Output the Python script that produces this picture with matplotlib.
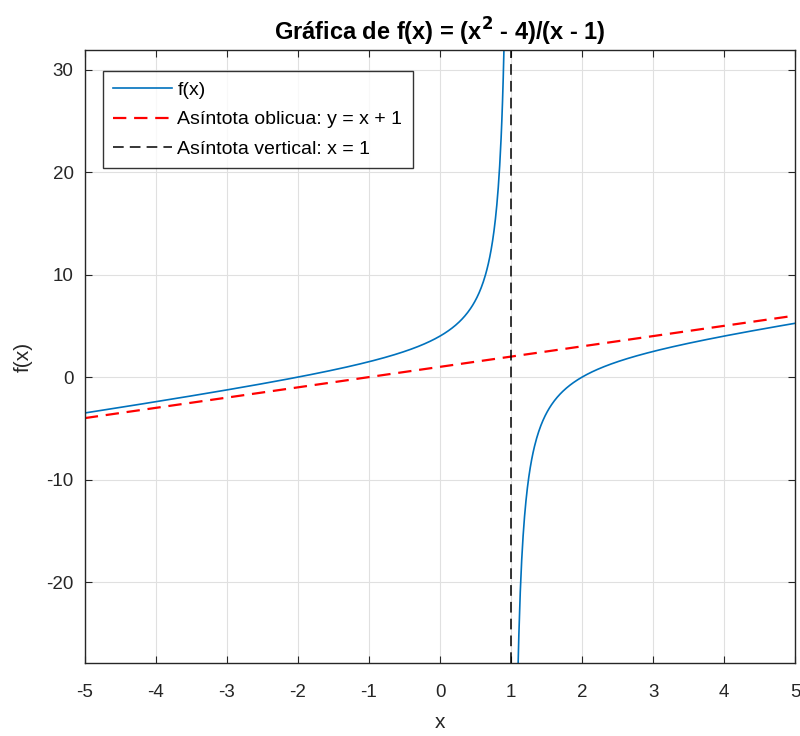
import numpy as np
import matplotlib.pyplot as plt

plt.rcParams['font.family'] = ['Liberation Sans', 'DejaVu Sans']
plt.rcParams['axes.unicode_minus'] = False

# dominio de la función, sin el intervalo alrededor de x = 1
x_izq = np.arange(-5.0, 0.9 + 1e-9, 0.01)
x_der = np.arange(1.1, 5.0 + 1e-9, 0.01)

def f(x):
    return (x**2 - 4) / (x - 1)

x_asint = [-5, 5]
x_vert = 1

y_izq = f(x_izq)
y_der = f(x_der)
y_obl = [xv + 1 for xv in x_asint]

azul = (0, 0.447, 0.741)
gris_ejes = (0.15, 0.15, 0.15)

fig = plt.figure(figsize=(8, 7.36), dpi=100)
ax = fig.add_axes([0.106, 0.099, 0.888, 0.833])

ax.plot(x_izq, y_izq, color=azul, lw=1.2, label='f(x)')
ax.plot(x_der, y_der, color=azul, lw=1.2)
ax.plot(x_asint, y_obl, color='red', lw=1.6, dashes=(6, 3.5),
        label='Asíntota oblicua: y = x + 1')
ax.axvline(x_vert, color='black', lw=1.1, dashes=(7, 4),
           label='Asíntota vertical: x = 1')

ax.set_xlim(-5, 5)
ax.set_ylim(min(y_der.min(), y_izq.min()), max(y_izq.max(), y_der.max()))
ax.set_xticks(range(-5, 6))
ax.set_yticks(range(-20, 31, 10))

ax.grid(True, color=(0.88, 0.88, 0.88), lw=0.8)
ax.set_axisbelow(True)
for s in ax.spines.values():
    s.set_color(gris_ejes)
    s.set_linewidth(1.0)
ax.tick_params(direction='in', length=5, top=True, right=True,
               colors=gris_ejes, labelsize=13.5, pad=8)
ax.tick_params(axis='x', pad=15)

ax.set_xlabel('x', fontsize=15, color=gris_ejes, labelpad=9)
ax.set_ylabel('f(x)', fontsize=15, color=gris_ejes, labelpad=10)
ax.set_title('Gráfica de f(x) = (x$^\\mathbf{2}$ - 4)/(x - 1)',
             fontsize=17, fontweight='bold', pad=7)

leg = ax.legend(loc='upper left', bbox_to_anchor=(0.025, 0.966),
                borderaxespad=0, fontsize=14, frameon=True, fancybox=False,
                edgecolor='black', handlelength=3.0, labelspacing=0.6,
                handletextpad=0.3, borderpad=0.55)
leg.get_frame().set_linewidth(1.0)

fig.savefig('out.png', dpi=100)
